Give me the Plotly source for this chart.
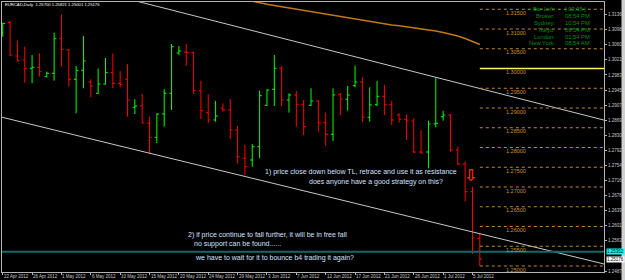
import plotly.graph_objects as go

# ---------------- data ----------------
dates = [
    "22 Apr 2012", "23 Apr 2012", "24 Apr 2012", "25 Apr 2012", "26 Apr 2012", "27 Apr 2012",
    "29 Apr 2012", "30 Apr 2012", "1 May 2012", "2 May 2012", "3 May 2012", "4 May 2012",
    "6 May 2012", "7 May 2012", "8 May 2012", "9 May 2012", "10 May 2012", "11 May 2012",
    "13 May 2012", "14 May 2012", "15 May 2012", "16 May 2012", "17 May 2012", "18 May 2012",
    "20 May 2012", "21 May 2012", "22 May 2012", "23 May 2012", "24 May 2012", "25 May 2012",
    "27 May 2012", "28 May 2012", "29 May 2012", "30 May 2012", "31 May 2012", "1 Jun 2012",
    "3 Jun 2012", "4 Jun 2012", "5 Jun 2012", "6 Jun 2012", "7 Jun 2012", "8 Jun 2012",
    "10 Jun 2012", "11 Jun 2012", "12 Jun 2012", "13 Jun 2012", "14 Jun 2012", "15 Jun 2012",
    "17 Jun 2012", "18 Jun 2012", "19 Jun 2012", "20 Jun 2012", "21 Jun 2012", "22 Jun 2012",
    "24 Jun 2012", "25 Jun 2012", "26 Jun 2012", "27 Jun 2012", "28 Jun 2012", "29 Jun 2012",
    "1 Jul 2012", "2 Jul 2012", "3 Jul 2012", "4 Jul 2012", "5 Jul 2012", "6 Jul 2012",
]

opens = [1.30899, 1.31161, 1.30317, 1.30216, 1.30006, 1.30031, 1.29794, 1.29879, 1.30755, 1.30469,
         1.29728, 1.29955, 1.29659, 1.29373, 1.29609, 1.29895, 1.29626, 1.29728, 1.29018, 1.29051,
         1.28613, 1.28258, 1.28849, 1.29373, 1.30393, 1.30418, 1.30401, 1.29438, 1.28882, 1.28697,
         1.28993, 1.28950, 1.28444, 1.27727, 1.27684, 1.28021, 1.29069, 1.29474, 1.30006, 1.29203,
         1.29330, 1.29094, 1.29069, 1.29178, 1.28629, 1.28335, 1.29347, 1.29221, 1.29566, 1.29659,
         1.28765, 1.29084, 1.29297, 1.29084, 1.28823, 1.28715, 1.28671, 1.27886, 1.27886, 1.28596,
         1.28780, 1.28823, 1.27937, 1.27583, 1.26881, 1.25700]
highs = [1.31161, 1.31211, 1.30704, 1.30552, 1.30342, 1.30385, 1.29920, 1.30907, 1.31363, 1.30494,
         1.30064, 1.30823, 1.29728, 1.29996, 1.30267, 1.30385, 1.29937, 1.30115, 1.29221, 1.29355,
         1.28780, 1.28866, 1.29474, 1.30621, 1.30570, 1.30621, 1.30426, 1.29692, 1.29347, 1.29178,
         1.29119, 1.29228, 1.28545, 1.28063, 1.28089, 1.29438, 1.29474, 1.30342, 1.30064, 1.29373,
         1.29431, 1.29203, 1.29500, 1.29203, 1.28882, 1.29500, 1.29373, 1.29558, 1.30072, 1.29778,
         1.29525, 1.29685, 1.29583, 1.29178, 1.28866, 1.28841, 1.28740, 1.28444, 1.28679, 1.29778,
         1.28932, 1.28849, 1.28021, 1.27641, 1.27008, 1.25821]
lows = [1.30805, 1.30317, 1.30173, 1.29642, 1.29626, 1.29794, 1.29778, 1.29692, 1.30046, 1.29540,
        1.28866, 1.29500, 1.29272, 1.29355, 1.29596, 1.29500, 1.29525, 1.28780, 1.28849, 1.28613,
        1.27853, 1.28114, 1.28528, 1.28950, 1.30342, 1.30064, 1.29355, 1.28715, 1.28613, 1.28654,
        1.28907, 1.28216, 1.27600, 1.27304, 1.27514, 1.27727, 1.29051, 1.29051, 1.29051, 1.28882,
        1.28528, 1.28317, 1.29051, 1.28401, 1.28046, 1.28165, 1.28823, 1.28932, 1.29525, 1.28654,
        1.28654, 1.29051, 1.28823, 1.28570, 1.28629, 1.28190, 1.27853, 1.27853, 1.27474, 1.28512,
        1.28679, 1.27894, 1.27558, 1.26628, 1.25304, 1.25001]
closes = [1.31140, 1.30342, 1.30198, 1.30006, 1.30031, 1.29920, 1.29879, 1.30755, 1.30487, 1.29728,
          1.29955, 1.30191, 1.29558, 1.29609, 1.29895, 1.29626, 1.29596, 1.29203, 1.29051, 1.28621,
          1.28258, 1.28849, 1.29373, 1.30553, 1.30444, 1.30401, 1.29438, 1.28932, 1.28697, 1.28798,
          1.28950, 1.28444, 1.27767, 1.27514, 1.28021, 1.29312, 1.29456, 1.30006, 1.29203, 1.29330,
          1.29094, 1.28528, 1.29178, 1.28629, 1.28335, 1.29330, 1.29228, 1.29330, 1.29659, 1.28765,
          1.29077, 1.29297, 1.29084, 1.28697, 1.28715, 1.28671, 1.27886, 1.27861, 1.28596, 1.28613,
          1.28823, 1.27937, 1.27583, 1.26881, 1.25716, 1.25176]

# moving average (orange), from bar index 33 to the last bar
ma_start = 33
ma_values = [1.31748, 1.31705, 1.31659, 1.31626, 1.31596, 1.31565, 1.31533, 1.31500, 1.31469, 1.31431,
             1.31393, 1.31368, 1.31338, 1.31305, 1.31279, 1.31246, 1.31221, 1.31186, 1.31153, 1.31127,
             1.31102, 1.31084, 1.31059, 1.31026, 1.31001, 1.30975, 1.30950, 1.30912, 1.30874, 1.30824,
             1.30760, 1.30684, 1.30608]

# trend line anchors (bar index, price)
upper_tl = [(20, 1.31623), (59, 1.29778)]
lower_tl = [(20, 1.27856), (33, 1.27267)]

# round-number levels
levels = [1.315, 1.310, 1.305, 1.300, 1.295, 1.290, 1.285, 1.280, 1.275, 1.270, 1.265, 1.260, 1.255, 1.250]
level_labels = ["1.31500", "1.31000", "1.30500", "1.30000", "1.29500", "1.29000", "1.28500",
                "1.28000", "1.27500", "1.27000", "1.26500", "1.26000", "1.25500", "1.25000"]
yellow_level = 1.300

hline_price = 1.25362
hline_label = "1.25362"
last_label = "1.25176"

date_ticks = ["22 Apr 2012", "26 Apr 2012", "1 May 2012", "6 May 2012", "10 May 2012", "15 May 2012",
              "20 May 2012", "24 May 2012", "29 May 2012", "3 Jun 2012", "7 Jun 2012", "12 Jun 2012",
              "17 Jun 2012", "21 Jun 2012", "26 Jun 2012", "1 Jul 2012", "5 Jul 2012"]
price_ticks = [1.31365, 1.30983, 1.30601, 1.30219, 1.29837, 1.29455, 1.29073, 1.28691, 1.28309,
               1.27927, 1.27545, 1.27163, 1.26781, 1.26399, 1.26017, 1.25635, 1.24871]

info_labels = ["Bar Left:", "Broker:", "Sydney:", "Tokyo:", "London:", "New York:"]
info_values = ["[ 03:05 ]", "08:54 PM", "10:54 PM", "09:54 PM", "01:54 PM", "08:54 AM"]

title_text = "EURCAD,Daily  1.25700 1.25821 1.25001 1.25176"
note1 = ["1) price close down below TL, retrace and use it as resistance",
         "does anyone have a good strategy on this?"]
note2 = ["2) if price continue to fall further, it will be in free fall",
         "no support can be found......",
         "we have to wait for it to bounce b4 trading it again?"]

# ---------------- layout helpers (pixel -> paper for text placement) ----------------
W, H = 625, 280
ML, MR, MT, MB = 2, 21, 2, 8
PW, PH = W - ML - MR, H - MT - MB
def pxx(x):
    return (x - ML) / PW
def pxy(y):
    return (H - MB - y) / PH

XMIN, XMAX = -0.1, 81.92
YMIN, YMAX = 1.24848, 1.31684

idx = list(range(len(dates)))
fig = go.Figure()

fig.add_trace(go.Ohlc(
    x=idx, open=opens, high=highs, low=lows, close=closes,
    increasing=dict(line=dict(color="#00ff00", width=1)),
    decreasing=dict(line=dict(color="#ff0000", width=1)),
    tickwidth=0.3, hoverinfo="skip"))

fig.add_trace(go.Scatter(
    x=idx[ma_start:], y=ma_values, mode="lines",
    line=dict(color="#c07a12", width=1.5), hoverinfo="skip"))

def tl_points(anchors):
    (x0, y0), (x1, y1) = anchors
    s = (y1 - y0) / (x1 - x0)
    return [XMIN - 2, XMAX + 2], [y0 + s * (XMIN - 2 - x0), y0 + s * (XMAX + 2 - x0)]

for tl in (upper_tl, lower_tl):
    xs, ys = tl_points(tl)
    fig.add_trace(go.Scatter(x=xs, y=ys, mode="lines",
                             line=dict(color="#c8c8c8", width=1), hoverinfo="skip"))

shapes = []
annotations = []
last_idx = idx[-1]
for lv, lab in zip(levels, level_labels):
    if lv == yellow_level:
        shapes.append(dict(type="line", xref="x", yref="y", x0=last_idx, x1=XMAX, y0=lv, y1=lv,
                           line=dict(color="#ffff55", width=1.5)))
    else:
        shapes.append(dict(type="line", xref="x", yref="y", x0=last_idx, x1=XMAX, y0=lv, y1=lv,
                           line=dict(color="#c08a30", width=1, dash="dot")))
    annotations.append(dict(x=last_idx + 4.9, y=lv, xref="x", yref="y", text=lab, showarrow=False,
                            xanchor="center", yanchor="middle", yshift=-3.5,
                            font=dict(family="Liberation Sans", size=5.5, color="#d09030")))

# teal horizontal line
shapes.append(dict(type="line", xref="paper", yref="y", x0=0, x1=1, y0=hline_price, y1=hline_price,
                   line=dict(color="#0e6b6b", width=2)))
# right grey strip
shapes.append(dict(type="rect", xref="paper", yref="paper", x0=pxx(621.5), x1=pxx(626),
                   y0=pxy(281), y1=pxy(-1), line=dict(width=0), fillcolor="#d0d0d0"))

# date labels below the axis (left edge at the bar, as in the terminal)
for d in date_ticks:
    annotations.append(dict(x=dates.index(d), y=pxy(276.2), xref="x", yref="paper", text=d,
                            showarrow=False, xanchor="left", yanchor="middle", xshift=-1,
                            font=dict(family="Liberation Sans", size=4.5, color="#c8c8c8")))

# price labels on axis
annotations.append(dict(x=1, y=hline_price, xref="paper", yref="y", text=hline_label, showarrow=False,
                        xanchor="left", yanchor="middle", xshift=2, bgcolor="#00ffff", borderpad=0,
                        font=dict(family="Liberation Sans", size=4.5, color="#000000")))
annotations.append(dict(x=1, y=closes[-1], xref="paper", yref="y", text=last_label, showarrow=False,
                        xanchor="left", yanchor="middle", xshift=2, bgcolor="#ffffff", borderpad=0,
                        font=dict(family="Liberation Sans", size=4.5, color="#000000")))

# title
annotations.append(dict(x=pxx(3), y=pxy(5), xref="paper", yref="paper", text=title_text, showarrow=False,
                        xanchor="left", yanchor="middle",
                        font=dict(family="Liberation Sans", size=4.2, color="#ffffff")))

# info panel
rows_y = [9.3, 16.1, 22.9, 29.7, 36.5, 43.3]
for lab, val, ry in zip(info_labels, info_values, rows_y):
    annotations.append(dict(x=pxx(556.7), y=pxy(ry), xref="paper", yref="paper", text=lab,
                            showarrow=False, xanchor="right", yanchor="middle",
                            font=dict(family="Liberation Sans", size=5.8, color="#0e8c0e")))
    annotations.append(dict(x=pxx(563), y=pxy(ry), xref="paper", yref="paper", text=val,
                            showarrow=False, xanchor="left", yanchor="middle",
                            font=dict(family="Liberation Sans", size=5.8, color="#0e8c0e")))

# notes
note_col = "#d2e2ff"
for txt, (x, y) in zip(note1, [(263.3, 172), (307.3, 182.3)]):
    annotations.append(dict(x=pxx(x), y=pxy(y), xref="paper", yref="paper", text=txt, showarrow=False,
                            xanchor="left", yanchor="middle",
                            font=dict(family="Liberation Sans", size=7, color=note_col)))
for txt, (x, y) in zip(note2, [(186, 235), (192, 244.3), (193, 258.3)]):
    annotations.append(dict(x=pxx(x), y=pxy(y), xref="paper", yref="paper", text=txt, showarrow=False,
                            xanchor="left", yanchor="middle",
                            font=dict(family="Liberation Sans", size=7, color=note_col)))

# red down arrow
annotations.append(dict(x=pxx(470), y=pxy(175), xref="paper", yref="paper", text="<b>⇩</b>", showarrow=False,
                        xanchor="center", yanchor="middle",
                        font=dict(family="DejaVu Sans", size=16, color="#ff2a10")))

fig.update_layout(
    width=W, height=H, margin=dict(l=ML, r=MR, t=MT, b=MB),
    paper_bgcolor="#000000", plot_bgcolor="#000000", showlegend=False,
    shapes=shapes, annotations=annotations,
    xaxis=dict(range=[XMIN, XMAX], showgrid=False, zeroline=False, showline=True, mirror=True,
               linecolor="#b4b4b4", linewidth=1, ticks="outside", ticklen=2, tickcolor="#b4b4b4",
               tickvals=[dates.index(d) for d in date_ticks], showticklabels=False,
               automargin=False, rangeslider=dict(visible=False)),
    yaxis=dict(range=[YMIN, YMAX], side="right", showgrid=False, zeroline=False, showline=True,
               mirror=True, linecolor="#b4b4b4", linewidth=1, ticks="outside", ticklen=2,
               tickcolor="#b4b4b4", tickvals=price_ticks, ticktext=[f"{v:.5f}" for v in price_ticks],
               automargin=False,
               tickfont=dict(family="Liberation Sans", size=4.5, color="#c8c8c8")),
)

fig.write_html("out.html")
